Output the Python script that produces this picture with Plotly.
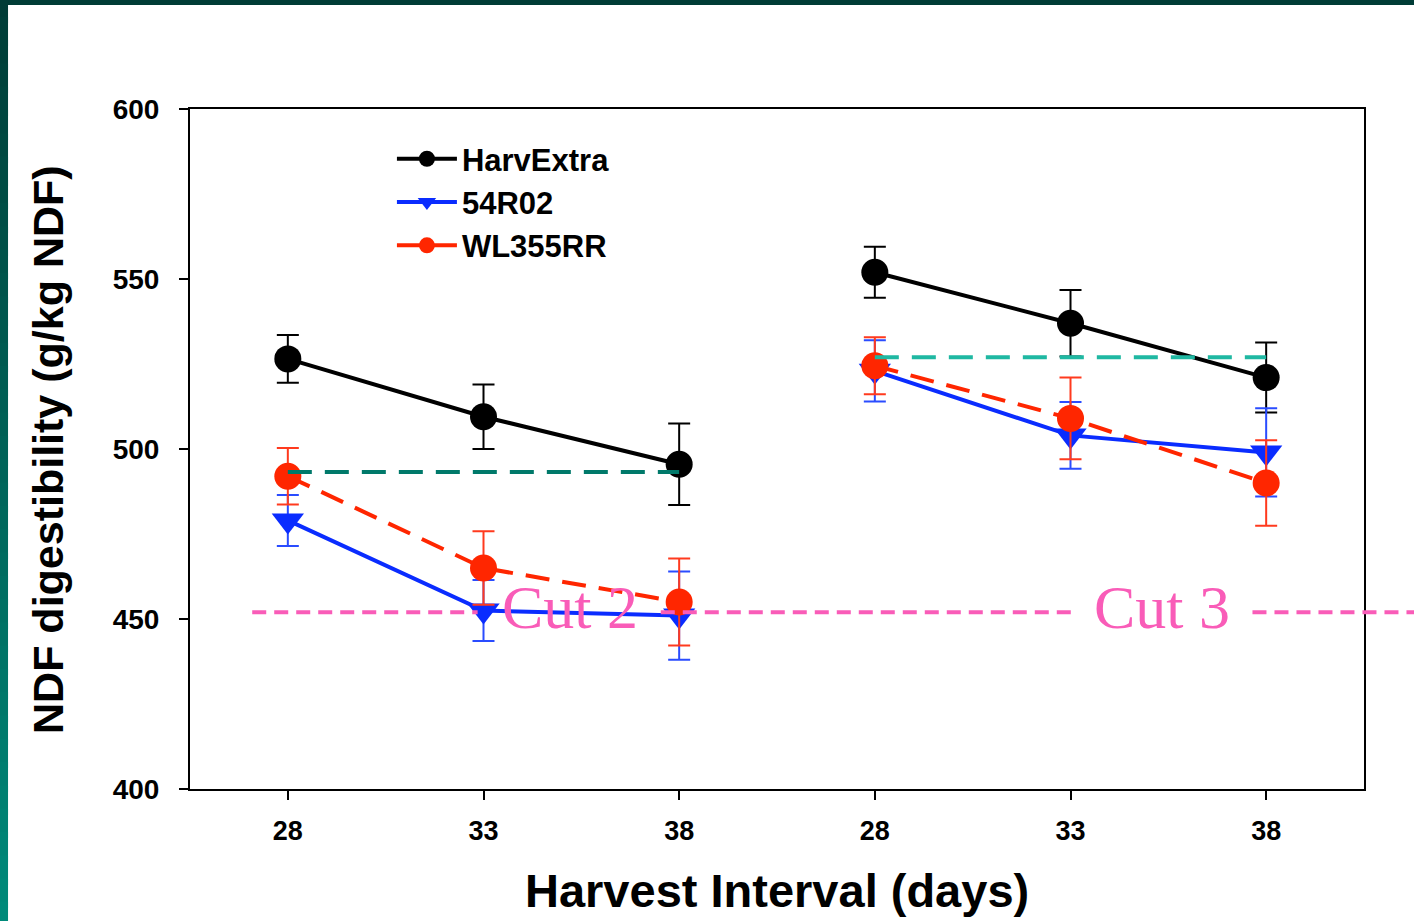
import plotly.graph_objects as go

# ---------------- data ----------------
days = ["28", "33", "38"]
cuts = ["Cut 2", "Cut 3"]

harv_cut2 = [526.5, 509.5, 495.5]
harv_cut2_err = [7.0, 9.5, 12.0]
harv_cut3 = [552.0, 537.0, 521.0]
harv_cut3_err = [7.5, 9.8, 10.3]

r02_cut2 = [479.0, 452.5, 451.0]
r02_cut2_err = [7.5, 9.0, 13.0]
r02_cut3 = [523.0, 504.0, 499.0]
r02_cut3_err = [9.0, 9.8, 13.0]

wl_cut2 = [492.0, 465.0, 455.0]
wl_cut2_err = [8.3, 10.8, 12.8]
wl_cut3 = [524.5, 509.0, 490.0]
wl_cut3_err = [8.4, 12.0, 12.6]

ref_cut2 = 493.2
ref_cut3 = 527.0
cut_line = 452.0

y_ticks = [400, 450, 500, 550, 600]

# ---------------- build ----------------
n = len(days)
x_c2 = list(range(n))
x_c3 = [n + i for i in range(n)]
x_all = x_c2 + [n - 0.5] + x_c3
ticktext = days + days


def join(a, b):
    return list(a) + [None] + list(b)


def join_err(a, b):
    return list(a) + [0] + list(b)


FONT = "Liberation Sans"
fig = go.Figure()

series = [
    ("HarvExtra", harv_cut2, harv_cut3, harv_cut2_err, harv_cut3_err,
     "#000000", "#000000", "solid", "circle", 27),
    ("54R02", r02_cut2, r02_cut3, r02_cut2_err, r02_cut3_err,
     "#0a2cff", "#2a4cff", "solid", "triangle-down", 28),
    ("WL355RR", wl_cut2, wl_cut3, wl_cut2_err, wl_cut3_err,
     "#ff2600", "#ff3a1e", "24px,13px", "circle", 27),
]

for name, c2, c3, e2, e3, col, ecol, dash, sym, size in series:
    fig.add_trace(go.Scatter(
        x=x_all, y=join(c2, c3), name=name, mode="lines+markers",
        connectgaps=False,
        line=dict(color=col, width=4, dash=dash),
        marker=dict(symbol=sym, size=size, color=col, line=dict(width=0)),
        error_y=dict(type="data", array=join_err(e2, e3), visible=True,
                     color=ecol, thickness=2, width=11),
    ))

# reference (mean) lines per cut
fig.add_trace(go.Scatter(
    x=[x_c2[0], x_c2[-1]], y=[ref_cut2, ref_cut2], mode="lines",
    line=dict(color="#00796a", width=4, dash="24px,13px"), showlegend=False,
    hoverinfo="skip"))
fig.add_trace(go.Scatter(
    x=[x_c3[0], x_c3[-1]], y=[ref_cut3, ref_cut3], mode="lines",
    line=dict(color="#1fb8a2", width=4, dash="24px,13px"), showlegend=False,
    hoverinfo="skip"))

# pink cut separator line (extends past plot area), with gaps for labels
PINK = "#f95cb8"
segments = [(0.053, 0.245), (0.401, 0.754), (0.905, 1.06)]
for x0, x1 in segments:
    fig.add_shape(type="line", xref="paper", yref="y", x0=x0, x1=x1,
                  y0=cut_line, y1=cut_line,
                  line=dict(color=PINK, width=4, dash="14px,8px"))

label_x = [0.3237, 0.828]
for txt, lx in zip(cuts, label_x):
    fig.add_annotation(text=txt, xref="paper", yref="y", x=lx, y=cut_line + 1.5,
                       showarrow=False, xanchor="center", yanchor="middle",
                       font=dict(family="Liberation Serif", size=62, color=PINK))

# axis titles as annotations (exact placement)
fig.add_annotation(text="NDF digestibility (g/kg NDF)", xref="paper", yref="paper",
                   x=-0.121, y=0.5, textangle=-90, showarrow=False,
                   xanchor="center", yanchor="middle",
                   font=dict(family=FONT, size=43, weight="bold", color="black"))
fig.add_annotation(text="Harvest Interval (days)", xref="paper", yref="paper",
                   x=0.5, y=-0.191, showarrow=False,
                   xanchor="center", yanchor="bottom",
                   font=dict(family=FONT, size=47, weight="bold", color="black"))

# slide frame decoration: dark teal top band and gradient left band
fig.add_shape(type="rect", xref="paper", yref="paper", x0=-0.2, x1=1.1,
              y0=1.153, y1=1.2, fillcolor="#003c36", line=dict(width=0),
              layer="above")
steps = 40
top_c = (0x00, 0x3c, 0x36)
bot_c = (0x00, 0x8a, 0x7a)
y_top, y_bot = 1.17, -0.2
for i in range(steps):
    t = i / (steps - 1)
    c = tuple(int(round(a + (b - a) * t)) for a, b in zip(top_c, bot_c))
    ya = y_top + (y_bot - y_top) * i / steps
    yb = y_top + (y_bot - y_top) * (i + 1) / steps - 0.01
    fig.add_shape(type="rect", xref="paper", yref="paper", x0=-0.2, x1=-0.1550,
                  y0=yb, y1=ya, fillcolor="rgb(%d,%d,%d)" % c,
                  line=dict(width=0), layer="above")

fig.update_layout(
    width=1414, height=921,
    margin=dict(l=190, r=50, t=109, b=132),
    paper_bgcolor="white", plot_bgcolor="white",
    font=dict(family=FONT, color="black"),
    showlegend=True,
    legend=dict(x=0.172, y=0.966, xanchor="left", yanchor="top",
                bgcolor="rgba(0,0,0,0)",
                font=dict(family=FONT, size=31, weight="bold", color="black"),
                itemwidth=60, tracegroupgap=0),
    xaxis=dict(range=[-0.5, 2 * n - 0.5], tickmode="array", tickvals=x_c2 + x_c3,
               ticktext=ticktext, showgrid=False, zeroline=False, automargin=False,
               showline=True, linecolor="black", linewidth=2, mirror=True,
               ticks="outside", ticklen=9, tickwidth=2, tickcolor="black",
               ticklabelstandoff=8,
               tickfont=dict(family=FONT, size=27, weight="bold")),
    yaxis=dict(range=[400, 600], tickmode="array", tickvals=y_ticks,
               showgrid=False, zeroline=False, automargin=False,
               showline=True, linecolor="black", linewidth=2, mirror=True,
               ticks="outside", ticklen=9, tickwidth=2, tickcolor="black",
               ticklabelstandoff=14,
               tickfont=dict(family=FONT, size=28, weight="bold")),
)

fig.write_html("out.html", config={"displayModeBar": False},
               post_script="document.body.style.margin='0';")
